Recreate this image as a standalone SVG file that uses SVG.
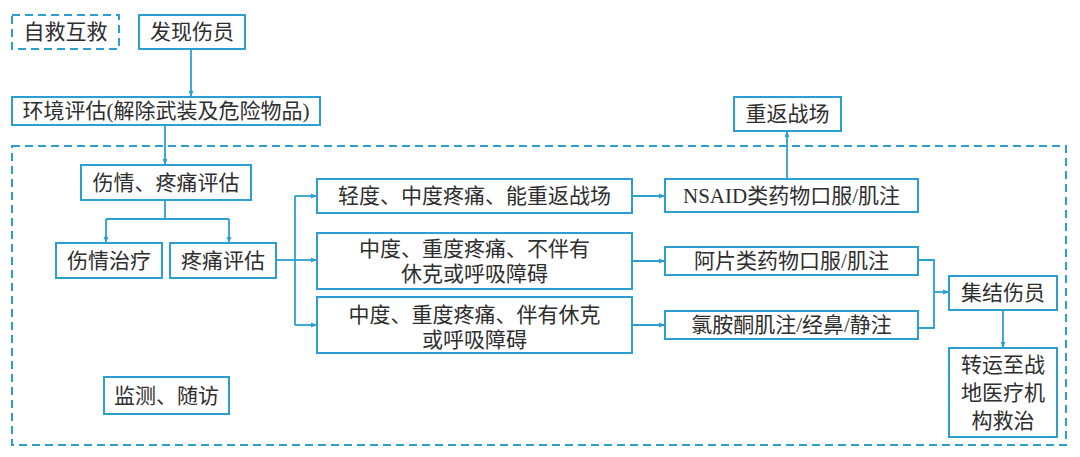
<svg xmlns="http://www.w3.org/2000/svg" width="1080" height="457" viewBox="0 0 1080 457">
<style>
.b{fill:#fff;stroke:#2b9fd1;stroke-width:2}
.d{fill:none;stroke:#2b9fd1;stroke-width:2;stroke-dasharray:8 5}
.c{fill:none;stroke:#2b9fd1;stroke-width:1.8}
text{font-family:"Liberation Serif","Noto Sans CJK SC",serif;font-size:21px;fill:#2e2e2e;text-anchor:middle;dominant-baseline:central}
</style>
<defs>
<marker id="a" viewBox="0 0 10 10" refX="10" refY="5" markerWidth="6" markerHeight="6" orient="auto" markerUnits="userSpaceOnUse"><path d="M0,1 L10,5 L0,9 Z" fill="#2b9fd1"/></marker>
</defs>
<rect class="d" x="12" y="146" width="1054" height="299"/>
<g id="connectors">
<path class="c" d="M191,49 V97" marker-end="url(#a)"/>
<path class="c" d="M165,125 V165" marker-end="url(#a)"/>
<path class="c" d="M165,200 V219"/>
<path class="c" d="M106,219 H229"/>
<path class="c" d="M106,219 V243" marker-end="url(#a)"/>
<path class="c" d="M229,219 V243" marker-end="url(#a)"/>
<path class="c" d="M276,260 H295"/>
<path class="c" d="M295,196 V325"/>
<path class="c" d="M295,196 H317" marker-end="url(#a)"/>
<path class="c" d="M295,260 H317" marker-end="url(#a)"/>
<path class="c" d="M295,325 H317" marker-end="url(#a)"/>
<path class="c" d="M632,196 H665" marker-end="url(#a)"/>
<path class="c" d="M632,261 H665" marker-end="url(#a)"/>
<path class="c" d="M632,325 H665" marker-end="url(#a)"/>
<path class="c" d="M787,179 V131" marker-end="url(#a)"/>
<path class="c" d="M918,260 H934 V328 H918"/>
<path class="c" d="M934,292 H949" marker-end="url(#a)"/>
<path class="c" d="M1003,310 V348" marker-end="url(#a)"/>
</g>
<g id="n1"><rect class="d" x="12" y="15" width="107" height="34"/><text x="65.5" y="32">自救互救</text></g>
<g id="n2"><rect class="b" x="139" y="15" width="106" height="34"/><text x="192" y="32">发现伤员</text></g>
<g id="n3"><rect class="b" x="12" y="97" width="308" height="28"/><text x="166" y="111">环境评估(解除武装及危险物品)</text></g>
<g id="n4"><rect class="b" x="81" y="165" width="170" height="35"/><text x="166" y="182.5">伤情、疼痛评估</text></g>
<g id="n5"><rect class="b" x="56" y="243" width="106" height="35"/><text x="109" y="260.5">伤情治疗</text></g>
<g id="n6"><rect class="b" x="170" y="243" width="106" height="35"/><text x="223" y="260.5">疼痛评估</text></g>
<g id="n7"><rect class="b" x="317" y="179" width="315" height="34"/><text x="474.5" y="196">轻度、中度疼痛、能重返战场</text></g>
<g id="n8"><rect class="b" x="317" y="233" width="315" height="56"/><text x="474.5" y="249">中度、重度疼痛、不伴有</text><text x="474.5" y="274">休克或呼吸障碍</text></g>
<g id="n9"><rect class="b" x="317" y="297" width="315" height="56"/><text x="474.5" y="315">中度、重度疼痛、伴有休克</text><text x="474.5" y="340">或呼吸障碍</text></g>
<g id="n10"><rect class="b" x="734" y="97" width="107" height="34"/><text x="787.5" y="114">重返战场</text></g>
<g id="n11"><rect class="b" x="665" y="179" width="253" height="33"/><text x="791.5" y="195.5">NSAID类药物口服/肌注</text></g>
<g id="n12"><rect class="b" x="665" y="247" width="253" height="28"/><text x="791.5" y="261">阿片类药物口服/肌注</text></g>
<g id="n13"><rect class="b" x="665" y="311" width="253" height="28"/><text x="791.5" y="325">氯胺酮肌注/经鼻/静注</text></g>
<g id="n14"><rect class="b" x="949" y="276" width="108" height="34"/><text x="1003" y="293">集结伤员</text></g>
<g id="n15"><rect class="b" x="949" y="348" width="108" height="89"/><text x="1003" y="365">转运至战</text><text x="1003" y="393">地医疗机</text><text x="1003" y="421">构救治</text></g>
<g id="n16"><rect class="b" x="104" y="377" width="125" height="37"/><text x="166.5" y="395.5">监测、随访</text></g>
</svg>
